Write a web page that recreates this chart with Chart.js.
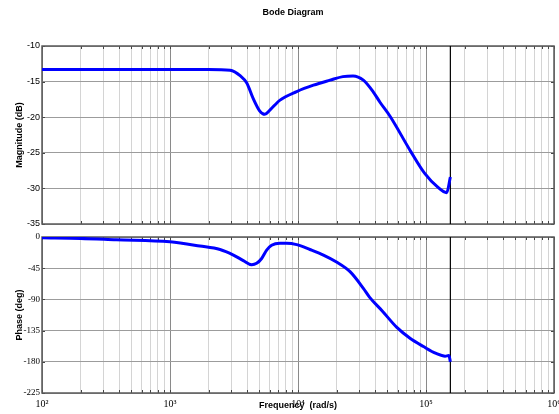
<!DOCTYPE html>
<html>
<head>
<meta charset="utf-8">
<script src="https://cdn.jsdelivr.net/npm/chart.js@4/dist/chart.umd.min.js"></script>
<style>
  html, body { margin: 0; padding: 0; background: #fff; }
  #wrap { position: relative; width: 559px; height: 414px; }
  #magChart { position: absolute; left: 0; top: 0; }
  #phaseChart { position: absolute; left: 0; top: 230px; }
</style>
</head>
<body>
<div id="wrap">
  <canvas id="magChart" width="559" height="230"></canvas>
  <canvas id="phaseChart" width="559" height="184"></canvas>
</div>
<script>
// values (frequency in rad/s)
const magFreq = [100, 316, 1000, 2000, 2950, 3550, 3980, 4470, 5010, 5500, 6030, 7240, 9770, 13200,
  17800, 22400, 26900, 32400, 38900, 43700, 52500, 75900, 97700, 123000, 145000, 155000];
const magDb = [-13.3, -13.3, -13.3, -13.3, -13.4, -14.2, -15.2, -17.4, -19.1, -19.6, -19.0, -17.6, -16.4, -15.5,
  -14.8, -14.3, -14.2, -14.8, -16.5, -17.9, -19.9, -24.8, -27.9, -29.8, -30.6, -28.4];

const phaseFreq = [100, 200, 380, 1000, 1710, 2460, 3130, 3740, 4350, 4750, 5200, 5690, 6220, 7230, 8150,
  9770, 12400, 15800, 20000, 25500, 32400, 36300, 45700, 58900, 75000, 95500, 120000, 141000, 151000, 155000];
const phaseDeg = [-1, -2, -4, -7, -13, -18, -26, -34, -40, -38, -31, -19, -12, -9, -9,
  -11, -18, -26, -36, -50, -74, -87, -107, -130, -146, -158, -168, -172, -171, -180];

const nyquistFreq = 155000;
const decades = [100, 1000, 10000, 100000, 1000000];
const magTicks = [-10, -15, -20, -25, -30, -35];
const phaseTicks = [0, -45, -90, -135, -180, -225];

const curveColor = '#0000ff';
const majorGrid = '#8a8a8a';
const minorGrid = '#d4d4d4';
const hGrid = '#9c9c9c';
const frameColor = '#5a5a5a';
const sup = { '2': '\u00b2', '3': '\u00b3', '4': '\u2074', '5': '\u2075', '6': '\u2076' };

const xTickValues = [];
decades.slice(0, -1).forEach(d => { for (let k = 1; k <= 9; k++) xTickValues.push(k * d); });
xTickValues.push(decades[decades.length - 1]);

const isDecade = v => decades.includes(v);
const pts = (xs, ys) => xs.map((x, i) => ({ x, y: ys[i] }));

const framePlugin = {
  id: 'frame',
  beforeDatasetsDraw(chart) {
    const { ctx, chartArea: a, scales } = chart;
    ctx.save();
    ctx.strokeStyle = '#444';
    ctx.lineWidth = 1;
    ctx.beginPath();
    scales.x.ticks.forEach(t => {
      const px = Math.round(scales.x.getPixelForValue(t.value)) + 0.5;
      ctx.moveTo(px, a.top); ctx.lineTo(px, a.top + 3);
      ctx.moveTo(px, a.bottom); ctx.lineTo(px, a.bottom - 3);
    });
    scales.y.ticks.forEach(t => {
      const py = Math.round(scales.y.getPixelForValue(t.value)) + 0.5;
      ctx.moveTo(a.left, py); ctx.lineTo(a.left + 3, py);
      ctx.moveTo(a.right, py); ctx.lineTo(a.right - 3, py);
    });
    ctx.stroke();
    ctx.strokeStyle = frameColor;
    ctx.lineWidth = 1.5;
    ctx.strokeRect(a.left, a.top, a.right - a.left, a.bottom - a.top);
    ctx.restore();
  },
  afterDraw(chart, args, opts) {
    if (!opts.title) return;
    const { ctx, chartArea: a } = chart;
    ctx.save();
    ctx.font = 'bold 9px "Liberation Sans", Arial, sans-serif';
    ctx.fillStyle = '#000';
    ctx.textAlign = 'center';
    ctx.textBaseline = 'middle';
    ctx.fillText(opts.title, (a.left + a.right) / 2 - 5, 13);
    ctx.restore();
  }
};

function xScale(showLabels) {
  return {
    type: 'logarithmic',
    min: 100,
    max: 1000000,
    afterBuildTicks: s => { s.ticks = xTickValues.map(v => ({ value: v })); },
    afterFit: s => {
      s.height = showLabels ? 21 : 6;
      s.paddingLeft = 0;
      s.paddingRight = 0;
    },
    grid: {
      drawTicks: false,
      color: c => (c.tick && isDecade(c.tick.value)) ? majorGrid : minorGrid,
      lineWidth: 1,
    },
    border: { display: false },
    ticks: {
      display: showLabels,
      autoSkip: false,
      maxRotation: 0,
      padding: 5,
      color: '#000',
      font: { family: '"Liberation Serif", "Times New Roman", serif', size: 10 },
      callback: v => isDecade(v) ? '10' + sup[String(Math.round(Math.log10(v)))] : '',
    },
    title: {
      display: showLabels,
      text: 'Frequency  (rad/s)',
      color: '#000',
      font: { family: '"Liberation Sans", Arial, sans-serif', size: 9, weight: 'bold' },
      padding: { top: 0, bottom: 3 },
    },
  };
}

function yScale(min, max, ticks, label, family) {
  return {
    min, max,
    afterBuildTicks: s => { s.ticks = ticks.map(v => ({ value: v })); },
    afterFit: s => {
      s.width = 42;
      s.paddingTop = 0;
      s.paddingBottom = 0;
    },
    grid: { drawTicks: false, color: hGrid, lineWidth: 1 },
    border: { display: false },
    ticks: {
      padding: 2,
      color: '#000',
      font: { family, size: 9 },
    },
    title: {
      display: true,
      text: label,
      color: '#000',
      font: { family: '"Liberation Sans", Arial, sans-serif', size: 9, weight: 'bold' },
      padding: { top: 14, bottom: 0 },
    },
  };
}

function makeChart(id, freq, vals, yMin, yMax, yTicks, label, yFamily, showX, padTop, title) {
  return new Chart(document.getElementById(id), {
    type: 'line',
    data: {
      datasets: [
        {
          data: pts(freq, vals),
          borderColor: curveColor,
          borderWidth: 3,
          pointRadius: 0,
          cubicInterpolationMode: 'monotone',
        },
        {
          data: [{ x: nyquistFreq, y: yMax }, { x: nyquistFreq, y: yMin }],
          borderColor: '#000',
          borderWidth: 1.2,
          pointRadius: 0,
        },
      ],
    },
    options: {
      responsive: false,
      animation: false,
      layout: { padding: { left: 0, right: 5, top: padTop, bottom: 0 } },
      plugins: { legend: { display: false }, tooltip: { enabled: false }, frame: { title } },
      scales: {
        x: xScale(showX),
        y: yScale(yMin, yMax, yTicks, label, yFamily),
      },
    },
    plugins: [framePlugin],
  });
}

makeChart('magChart', magFreq, magDb, -35, -10, magTicks, 'Magnitude (dB)',
  '"Liberation Sans", Arial, sans-serif', false, 46, 'Bode Diagram');
makeChart('phaseChart', phaseFreq, phaseDeg, -225, 0, phaseTicks, 'Phase (deg)',
  '"Liberation Serif", "Times New Roman", serif', true, 7, null);
</script>
</body>
</html>
